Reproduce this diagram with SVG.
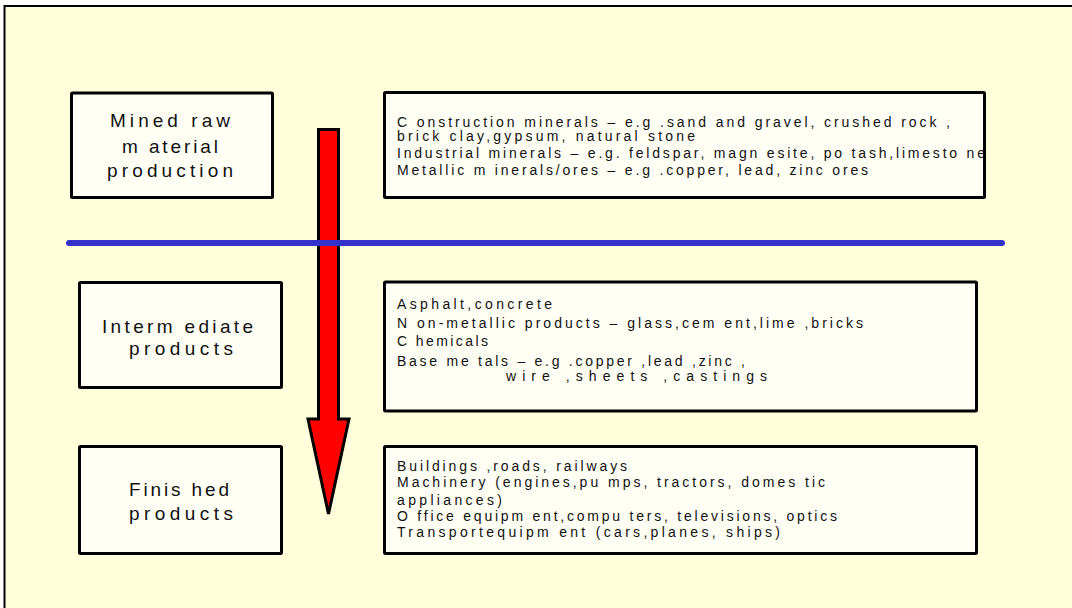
<svg xmlns="http://www.w3.org/2000/svg" width="1072" height="608" viewBox="0 0 1072 608">
<style>
.box{fill:#FFFFF6;stroke:#000;stroke-width:3;}
.lbl{font-family:"Liberation Sans",Arial,sans-serif;font-size:19px;fill:#111;text-anchor:middle;}
.txt{font-family:"Liberation Sans",Arial,sans-serif;font-size:14px;fill:#111;}
</style>
<rect x="0" y="0" width="1072" height="608" fill="#FFFFFF"/>
<rect x="4.5" y="6" width="1080" height="620" fill="#FFFFDC" stroke="#000" stroke-width="2"/>

<g id="arrow">
<path d="M318.5,129.5 H338.5 V419 H349 L328.5,514 L308,419 H318.5 Z" fill="#FF0000" stroke="#000" stroke-width="3" stroke-linejoin="miter"/>
</g>

<g id="connectors">
<line x1="69" y1="243" x2="1002" y2="243" stroke="#3333CC" stroke-width="6" stroke-linecap="round"/>
</g>

<g id="mined">
<rect class="box" x="71.5" y="93" width="201" height="104.5" rx="1"/>
<text class="lbl" x="170" y="127" textLength="120" lengthAdjust="spacing">Mined raw</text>
<text class="lbl" x="170" y="153" textLength="96" lengthAdjust="spacing">m aterial</text>
<text class="lbl" x="170" y="177" textLength="126" lengthAdjust="spacing">production</text>
</g>

<g id="mined-list">
<rect class="box" x="384.5" y="92.5" width="600" height="105" rx="1"/>
<text class="txt" x="397" y="127" textLength="553" lengthAdjust="spacing">C onstruction minerals – e.g .sand and gravel, crushed rock ,</text>
<text class="txt" x="397" y="141" textLength="298" lengthAdjust="spacing">brick clay,gypsum, natural stone</text>
<text class="txt" x="397" y="158" textLength="588" lengthAdjust="spacing">Industrial minerals – e.g. feldspar, magn esite, po tash,limesto ne</text>
<text class="txt" x="397" y="175" textLength="471" lengthAdjust="spacing">Metallic m inerals/ores – e.g .copper, lead, zinc ores</text>
</g>

<g id="intermediate">
<rect class="box" x="79.5" y="282.5" width="202" height="105" rx="1"/>
<text class="lbl" x="177.5" y="333" textLength="151" lengthAdjust="spacing">Interm ediate</text>
<text class="lbl" x="181" y="355" textLength="104" lengthAdjust="spacing">products</text>
</g>

<g id="intermediate-list">
<rect class="box" x="384.5" y="282" width="592" height="129" rx="1"/>
<text class="txt" x="397" y="309" textLength="155" lengthAdjust="spacing">Asphalt,concrete</text>
<text class="txt" x="397" y="328" textLength="466" lengthAdjust="spacing">N on-metallic products – glass,cem ent,lime ,bricks</text>
<text class="txt" x="397" y="346" textLength="91" lengthAdjust="spacing">C hemicals</text>
<text class="txt" x="397" y="366" textLength="348" lengthAdjust="spacing">Base me tals – e.g .copper ,lead ,zinc ,</text>
<text class="txt" x="506" y="381" textLength="261" lengthAdjust="spacing">wire ,sheets ,castings</text>
</g>

<g id="finished">
<rect class="box" x="79.5" y="446.5" width="202" height="107" rx="1"/>
<text class="lbl" x="179" y="496" textLength="100" lengthAdjust="spacing">Finis hed</text>
<text class="lbl" x="181" y="520" textLength="104" lengthAdjust="spacing">products</text>
</g>

<g id="finished-list">
<rect class="box" x="384.5" y="446.5" width="592" height="107" rx="1"/>
<text class="txt" x="397" y="471" textLength="230" lengthAdjust="spacing">Buildings ,roads, railways</text>
<text class="txt" x="397" y="487" textLength="428" lengthAdjust="spacing">Machinery (engines,pu mps, tractors, domes tic</text>
<text class="txt" x="397" y="505" textLength="105" lengthAdjust="spacing">appliances)</text>
<text class="txt" x="397" y="521" textLength="440" lengthAdjust="spacing">O ffice equipm ent,compu ters, televisions, optics</text>
<text class="txt" x="397" y="537" textLength="383" lengthAdjust="spacing">Transportequipm ent (cars,planes, ships)</text>
</g>
</svg>
